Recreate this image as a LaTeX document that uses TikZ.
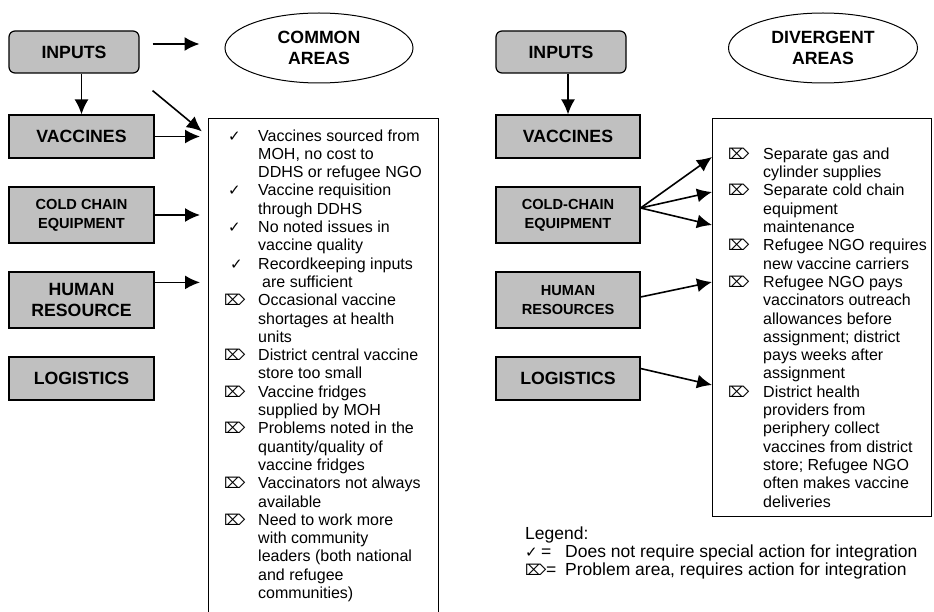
\documentclass[tikz,border=0pt]{standalone}
\usepackage{fontspec}
\setmainfont{Liberation Sans}
\newfontfamily\symfont{DejaVu Sans}
\usetikzlibrary{arrows.meta,shapes.geometric}
\definecolor{boxgray}{RGB}{192,192,192}
\newcommand{\ok}{{\symfont\fontsize{15}{15}\selectfont ✓}}
\newcommand{\bad}{{\symfont\fontsize{15}{15}\selectfont ⌦}}

\begin{document}
\begin{tikzpicture}[x=1pt,y=-1pt]
            \tikzset{vertex/.style = {shape=rectangle,draw,line width=1.2pt,fill=boxgray,align=center,inner sep=0pt,font=\fontsize{17.7}{20.7}\selectfont\bfseries}}
            \tikzset{narrow/.style = {vertex,font=\fontsize{14.6}{19}\selectfont\bfseries}}
            \tikzset{area/.style = {shape=ellipse,draw,line width=1pt,minimum width=188pt,minimum height=70pt,inner sep=0pt,align=center,font=\fontsize{17.7}{21.7}\selectfont\bfseries}}
            \tikzset{listbox/.style = {shape=rectangle,draw,line width=1.2pt,anchor=north west,inner sep=0pt}}
            \tikzset{list/.style = {anchor=north west,inner sep=0pt,font=\fontsize{16}{18.3}\selectfont}}
            \tikzset{edge/.style = {-{Latex[length=15pt,width=14pt]},line width=1.6pt}}
            \useasboundingbox (0,0) rectangle (934,612);
            \clip (0,0) rectangle (934,612);
            \fill[white] (0,0) rectangle (934,612);

            \node[vertex,rounded corners=6pt,minimum width=130pt,minimum height=42pt] (in1) at (74,52) {INPUTS};
            \node[vertex,minimum width=145pt,minimum height=43pt] (vac1) at (81.5,136.5) {VACCINES};
            \node[narrow,minimum width=145pt,minimum height=56pt] (cold1) at (81.5,215) {COLD CHAIN\\EQUIPMENT};
            \node[vertex,minimum width=145pt,minimum height=56pt] (hum1) at (81.5,300) {HUMAN\\RESOURCE};
            \node[vertex,minimum width=145pt,minimum height=43pt] (log1) at (81.5,378.5) {LOGISTICS};
            \node[area] (common) at (319,48) {COMMON\\AREAS};
            \node[listbox,minimum width=230pt,minimum height=520pt] (box1) at (208,118) {};
            \node[list] (txt1) at (224,128) {\begin{tabular}{@{}p{34pt}@{}l@{}}
              \hspace{4pt}\ok & Vaccines sourced from\\
              & MOH, no cost to\\
              & DDHS or refugee NGO\\
              \hspace{4pt}\ok & Vaccine requisition\\
              & through DDHS\\
              \hspace{4pt}\ok & No noted issues in\\
              & vaccine quality\\
              \hspace{6pt}\ok & Recordkeeping inputs\\
              & \hspace{4pt}are sufficient\\
              \bad & Occasional vaccine\\
              & shortages at health\\
              & units\\
              \bad & District central vaccine\\
              & store too small\\
              \bad & Vaccine fridges\\
              & supplied by MOH\\
              \bad & Problems noted in the\\
              & quantity/quality of\\
              & vaccine fridges\\
              \bad & Vaccinators not always\\
              & available\\
              \bad & Need to work more\\
              & with community\\
              & leaders (both national\\
              & and refugee\\
              & communities)
            \end{tabular}};

            \node[vertex,rounded corners=6pt,minimum width=130pt,minimum height=42pt] (in2) at (561,52) {INPUTS};
            \node[vertex,minimum width=144pt,minimum height=43pt] (vac2) at (568,136.5) {VACCINES};
            \node[narrow,minimum width=144pt,minimum height=56pt] (cold2) at (568,215) {COLD-CHAIN\\EQUIPMENT};
            \node[narrow,minimum width=144pt,minimum height=56pt] (hum2) at (568,300) {HUMAN\\RESOURCES};
            \node[vertex,minimum width=144pt,minimum height=43pt] (log2) at (568,378.5) {LOGISTICS};
            \node[area,minimum width=189pt] (diverg) at (823,48) {DIVERGENT\\AREAS};
            \node[listbox,minimum width=219pt,minimum height=398pt] (box2) at (712,118) {};
            \node[list] (txt2) at (728,128) {\begin{tabular}{@{}p{35pt}@{}l@{}}
              & \\
              \bad & Separate gas and\\
              & cylinder supplies\\
              \bad & Separate cold chain\\
              & equipment\\
              & maintenance\\
              \bad & Refugee NGO requires\\
              & new vaccine carriers\\
              \bad & Refugee NGO pays\\
              & vaccinators outreach\\
              & allowances before\\
              & assignment; district\\
              & pays weeks after\\
              & assignment\\
              \bad & District health\\
              & providers from\\
              & periphery collect\\
              & vaccines from district\\
              & store; Refugee NGO\\
              & often makes vaccine\\
              & deliveries
            \end{tabular}};

            \node[list,font=\fontsize{17.5}{18.3}\selectfont] (legend) at (525,526) {\begin{tabular}{@{}l@{}}
              Legend:\\
              \makebox[16pt][l]{\ok}\makebox[24pt][l]{=}Does not require special action for integration\\
              \makebox[21pt][l]{\bad}\makebox[19pt][l]{=}Problem area, requires action for integration
            \end{tabular}};

            \coordinate (d1) at ([shift={(13pt,-17pt)}]in1.south east);
            \coordinate (h1) at ([yshift=-11pt]hum1.north east);
            \coordinate (s2) at ([yshift=7pt]cold2.east);

            \draw[edge] ([shift={(13pt,8pt)}]in1.east) to ([shift={(-25pt,4pt)}]common.west);
            \draw[edge] (in1.south -| vac1.north) to (vac1.north);
            \draw[edge,shorten >=8pt] (d1) to (vac1.east -| box1.west);
            \draw[edge,shorten >=8pt] (vac1.east) to (vac1.east -| box1.west);
            \draw[edge,shorten >=8pt] (cold1.east) to (cold1.east -| box1.west);
            \draw[edge,shorten >=8pt] (h1) to (h1 -| box1.west);

            \draw[edge] (in2.south -| vac2.north) to (vac2.north);
            \draw[edge] (s2) to ([yshift=-39pt]box2.north west);
            \draw[edge] (s2) to ([yshift=-74pt]box2.north west);
            \draw[edge] (s2) to ([yshift=-107pt]box2.north west);
            \draw[edge] ([yshift=3pt]hum2.east) to ([yshift=-164pt]box2.north west);
            \draw[edge] ([yshift=10pt]log2.east) to ([yshift=-267pt]box2.north west);
        \end{tikzpicture}
\end{document}
